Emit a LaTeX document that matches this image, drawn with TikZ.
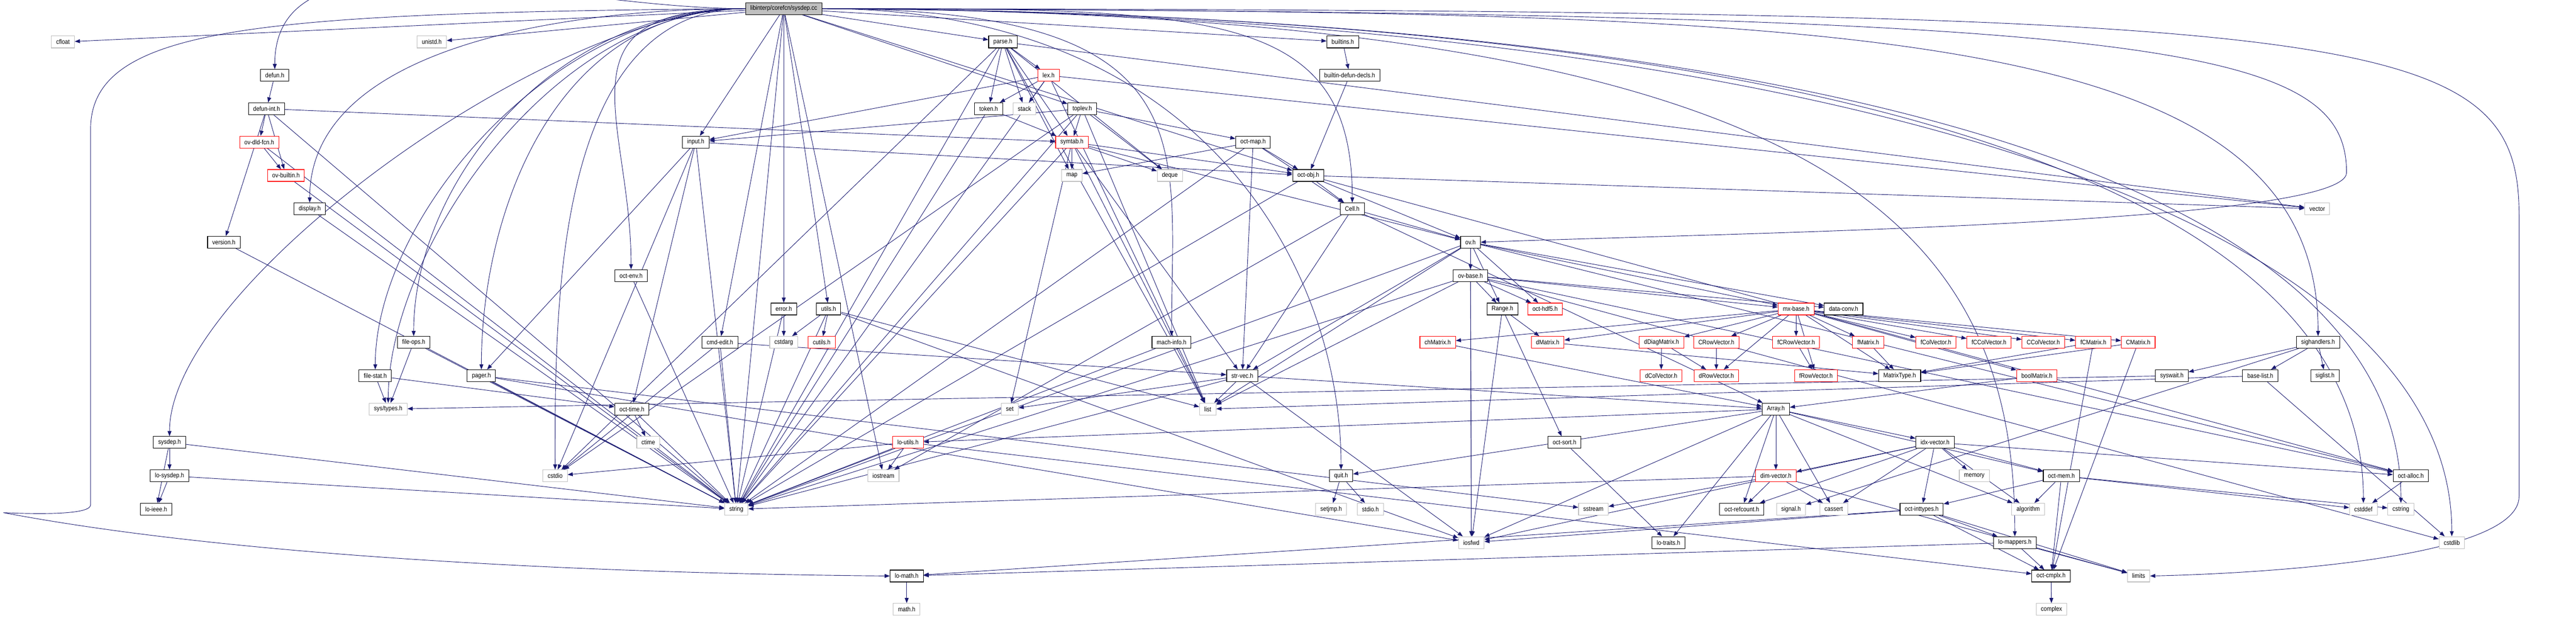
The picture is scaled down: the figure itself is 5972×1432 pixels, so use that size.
\documentclass[tikz,border=0pt]{standalone}
\usepackage{fontspec}
\newfontfamily\dfont{Liberation Sans}[FakeStretch=0.88]
\newcommand\nf{\dfont\fontsize{15}{16}\selectfont}
\usetikzlibrary{arrows.meta,backgrounds}
\definecolor{navy}{HTML}{191970}
\definecolor{lgray}{HTML}{BFBFBF}
\begin{document}
\begin{tikzpicture}[x=1bp,y=1bp,
 nd/.style={draw=black,line width=1.3bp,fill=white,inner xsep=11bp,inner ysep=0bp,minimum height=27.5bp,font=\nf,text=black},
 gr/.style={nd,draw=lgray},
 rd/.style={nd,draw=red},
 rt/.style={nd,fill=lgray},
 e/.style={draw=navy,line width=1.1bp,-{Triangle[length=12bp,width=9bp]}}]
\useasboundingbox (0,0) rectangle (5972,-1432);
% row 0
\node[rt] (sys) at (1817,-20) {libinterp/corefcn/sysdep.cc};
% row 1
\node[gr] (cfloat) at (146,-97.3) {cfloat};
\node[gr] (unistd) at (1001,-97.3) {unistd.h};
\node[nd] (parse) at (2325,-97.3) {parse.h};
\node[nd] (builtins) at (3113,-97.3) {builtins.h};
% row 2
\node[nd] (defun) at (637,-174.7) {defun.h};
\node[rd] (lex) at (2431,-174.7) {lex.h};
\node[nd] (bdd) at (3129,-174.7) {builtin-defun-decls.h};
% row 3
\node[nd] (definth) at (618,-252) {defun-int.h};
\node[nd] (token) at (2292,-252) {token.h};
\node[gr] (stack) at (2375,-252) {stack};
\node[nd] (toplev) at (2509,-252) {toplev.h};
% row 4
\node[rd] (ovdld) at (601,-329.3) {ov-dld-fcn.h};
\node[nd] (input) at (1613,-329.3) {input.h};
\node[rd] (symtab) at (2485,-329.3) {symtab.h};
\node[nd] (octmap) at (2905,-329.3) {oct-map.h};
% row 5
\node[rd] (ovbuiltin) at (663,-406.7) {ov-builtin.h};
\node[gr] (map) at (2485,-406.7) {map};
\node[gr] (deque) at (2712,-406.7) {deque};
\node[nd] (octobj) at (3033,-406.7) {oct-obj.h};
% row 6
\node[nd] (display) at (718,-484) {display.h};
\node[nd] (cell) at (3135,-484) {Cell.h};
\node[gr] (vector) at (5372,-484) {vector};
% row 7
\node[nd] (version) at (519,-561.3) {version.h};
\node[nd] (ov) at (3409,-561.3) {ov.h};
% row 8
\node[nd] (octenv) at (1463,-638.7) {oct-env.h};
\node[nd] (ovbase) at (3409,-638.7) {ov-base.h};
% row 9
\node[nd] (error) at (1817,-716) {error.h};
\node[nd] (utils) at (1921,-716) {utils.h};
\node[nd] (range) at (3483,-716) {Range.h};
\node[rd] (hdf5) at (3582,-716) {oct-hdf5.h};
\node[rd] (mxbase) at (4164,-716) {mx-base.h};
\node[nd] (dataconv) at (4274,-716) {data-conv.h};
% row 10
\node[nd] (fileops) at (959,-793.3) {file-ops.h};
\node[nd] (cmdedit) at (1669,-793.3) {cmd-edit.h};
\node[gr] (cstdarg) at (1817,-793.3) {cstdarg};
\node[rd] (cutils) at (1905,-793.3) {cutils.h};
\node[nd] (machinfo) at (2716,-793.3) {mach-info.h};
\node[rd] (chmatrix) at (3333,-793.3) {chMatrix.h};
\node[rd] (dmatrix) at (3588,-793.3) {dMatrix.h};
\node[rd] (ddiag) at (3852,-793.3) {dDiagMatrix.h};
\node[rd] (crowvec) at (3979,-793.3) {CRowVector.h};
\node[rd] (fcrowvec) at (4164,-793.3) {fCRowVector.h};
\node[rd] (fmatrix) at (4331,-793.3) {fMatrix.h};
\node[rd] (fcolvec) at (4488,-793.3) {fColVector.h};
\node[rd] (fccolvec) at (4611,-793.3) {fCColVector.h};
\node[rd] (ccolvec) at (4737,-793.3) {CColVector.h};
\node[rd] (fcmatrix) at (4853,-793.3) {fCMatrix.h};
\node[rd] (cmatrix) at (4957,-793.3) {CMatrix.h};
\node[nd] (sighandlers) at (5374,-793.3) {sighandlers.h};
% row 11
\node[nd] (filestat) at (870,-870.7) {file-stat.h};
\node[nd] (pager) at (1116,-870.7) {pager.h};
\node[nd] (strvec) at (2880,-870.7) {str-vec.h};
\node[rd] (dcolvec) at (3851,-870.7) {dColVector.h};
\node[rd] (drowvec) at (3979,-870.7) {dRowVector.h};
\node[rd] (frowvec) at (4210,-870.7) {fRowVector.h};
\node[nd] (mtype) at (4404,-870.7) {MatrixType.h};
\node[rd] (boolm) at (4722,-870.7) {boolMatrix.h};
\node[nd] (syswait) at (5035,-870.7) {syswait.h};
\node[nd] (baselist) at (5240,-870.7) {base-list.h};
\node[nd] (siglist) at (5390,-870.7) {siglist.h};
% row 12
\node[gr] (systypes) at (900,-948) {sys/types.h};
\node[nd] (octtime) at (1465,-948) {oct-time.h};
\node[gr] (set) at (2341,-948) {set};
\node[gr] (list) at (2800,-948) {list};
\node[nd] (array) at (4117,-948) {Array.h};
% row 13
\node[nd] (sysdeph) at (393,-1025.3) {sysdep.h};
\node[gr] (ctime) at (1503,-1025.3) {ctime};
\node[rd] (loutils) at (2105,-1025.3) {lo-utils.h};
\node[nd] (octsort) at (3627,-1025.3) {oct-sort.h};
\node[nd] (idx) at (4486,-1025.3) {idx-vector.h};
% row 14
\node[nd] (losysdep) at (393,-1102.7) {lo-sysdep.h};
\node[gr] (cstdio) at (1287,-1102.7) {cstdio};
\node[gr] (iostream) at (2048,-1102.7) {iostream};
\node[nd] (quit) at (3109,-1102.7) {quit.h};
\node[rd] (dimvec) at (4117,-1102.7) {dim-vector.h};
\node[gr] (memory) at (4577,-1102.7) {memory};
\node[nd] (octmem) at (4779,-1102.7) {oct-mem.h};
\node[nd] (octalloc) at (5589,-1102.7) {oct-alloc.h};
% row 15
\node[nd] (loieee) at (362,-1180) {lo-ieee.h};
\node[gr] (string) at (1707,-1180) {string};
\node[gr] (setjmp) at (3086,-1180) {setjmp.h};
\node[gr] (stdioh) at (3177,-1180) {stdio.h};
\node[gr] (sstream) at (3694,-1180) {sstream};
\node[nd] (refcount) at (4038,-1180) {oct-refcount.h};
\node[gr] (signalh) at (4152,-1180) {signal.h};
\node[gr] (cassert) at (4251,-1180) {cassert};
\node[nd] (inttypes) at (4455,-1180) {oct-inttypes.h};
\node[gr] (algorithm) at (4702,-1180) {algorithm};
\node[gr] (cstddef) at (5479,-1180) {cstddef};
\node[gr] (cstring) at (5566,-1180) {cstring};
% row 16
\node[gr] (iosfwd) at (3411,-1257.3) {iosfwd};
\node[nd] (lotraits) at (3868,-1257.3) {lo-traits.h};
\node[nd] (lomappers) at (4671,-1257.3) {lo-mappers.h};
\node[gr] (cstdlib) at (5684,-1257.3) {cstdlib};
% row 17
\node[nd] (lomath) at (2102,-1334.7) {lo-math.h};
\node[nd] (octcmplx) at (4755,-1334.7) {oct-cmplx.h};
\node[gr] (limits) at (4958,-1334.7) {limits};
% row 18
\node[gr] (mathh) at (2102,-1412) {math.h};
\node[gr] (complex) at (4756,-1412) {complex};

\begin{scope}[on background layer]
\foreach \tg in {defun,octenv,fileops,filestat,systypes,sysdeph,display,pager,cstdio}
  \draw[e] (sys.west) .. controls +(-450,0) and +(0,350) .. (\tg.north);
\foreach \tg in {cfloat,unistd,parse,builtins,input,string,error,utils,cmdedit,toplev,iostream,octobj}
  \draw[e] (sys) -- (\tg);
\foreach \tg in {cell,machinfo,quit}
  \draw[e] (sys.east) .. controls +(900,0) and +(0,450) .. (\tg.north);
\foreach \tg in {lomappers,sighandlers,cstddef,cstring,cstdlib}
  \draw[e] (sys.east) .. controls +(2300,-10) and +(0,750) .. (\tg.north);
\draw[e] (sys.east) .. controls (5000,-30) and (5440,-100) .. (5440,-400)
   .. controls (5440,-520) and (4000,-540) .. (ov.east);
\draw[e] (sys.east) .. controls (5500,-25) and (5840,-60) .. (5840,-500) -- (5840,-1150)
   .. controls (5840,-1300) and (5200,-1330) .. (limits.east);
\draw[e] (sys.west) .. controls (600,-30) and (210,-60) .. (210,-300) -- (210,-1170)
   .. controls (210,-1192) and (100,-1192) .. (8,-1188)
   .. controls (600,-1300) and (1500,-1330) .. (lomath.west);
\foreach \a/\b in {defun/definth, definth/ovdld, definth/ovbuiltin, definth/version, definth/symtab, definth/string,
 ovdld/ovbuiltin, ovdld/string, ovbuiltin/string, display/string, version/string,
 parse/lex, parse/token, parse/stack, parse/map, parse/symtab, parse/vector, parse/cstdio, parse/string, parse/list, parse/deque,
 lex/token, lex/stack, lex/input, lex/vector, lex/string, lex/list,
 toplev/symtab, toplev/octmap, toplev/deque, toplev/input, toplev/cstdio, toplev/string, toplev/list,
 token/symtab, token/string,
 symtab/map, symtab/deque, symtab/list, symtab/set, symtab/string, symtab/octobj, symtab/ov, symtab/strvec,
 octmap/map, octmap/octobj, octmap/cell, octmap/strvec, octmap/string,
 octobj/cell, octobj/ov, octobj/vector, octobj/octalloc, octobj/string,
 cell/ov, cell/array, cell/strvec, cell/iostream,
 builtins/bdd, bdd/octobj,
 input/cstdio, input/string, input/pager, input/octtime, input/octobj,
 ov/ovbase, ov/range, ov/hdf5, ov/string, ov/list, ov/iosfwd, ov/octalloc, ov/mxbase, ov/dataconv, ov/strvec,
 ovbase/range, ovbase/hdf5, ovbase/mxbase, ovbase/dataconv, ovbase/string, ovbase/list, ovbase/iosfwd, ovbase/cstdlib, ovbase/octalloc,
 range/dmatrix, range/octsort, range/iosfwd,
 mxbase/chmatrix, mxbase/dmatrix, mxbase/ddiag, mxbase/crowvec, mxbase/fcrowvec, mxbase/fmatrix, mxbase/fcolvec, mxbase/fccolvec,
 mxbase/ccolvec, mxbase/fcmatrix, mxbase/cmatrix, mxbase/mtype, mxbase/frowvec, mxbase/boolm, mxbase/drowvec,
 ddiag/dcolvec, ddiag/drowvec, crowvec/drowvec, fcrowvec/frowvec, fmatrix/mtype, fcmatrix/mtype, fcmatrix/octcmplx,
 cmatrix/mtype, cmatrix/octcmplx, dmatrix/mtype, chmatrix/array, boolm/array,
 array/dimvec, array/idx, array/refcount, array/cassert, array/octmem, array/algorithm, array/loutils, array/iosfwd, array/quit, array/lotraits,
 idx/dimvec, idx/memory, idx/octmem, idx/inttypes, idx/algorithm, idx/cassert, idx/refcount, idx/octalloc, idx/iosfwd,
 dimvec/refcount, dimvec/cassert, dimvec/sstream, dimvec/limits, dimvec/string,
 octmem/algorithm, octmem/inttypes, octmem/octcmplx, octmem/cstddef, octmem/cstring,
 inttypes/lomappers, inttypes/limits, inttypes/lomath, inttypes/iosfwd, inttypes/octcmplx,
 lomappers/octcmplx, lomappers/limits, lomappers/lomath,
 octcmplx/complex, lomath/mathh,
 sighandlers/syswait, sighandlers/baselist, sighandlers/siglist, sighandlers/signalh,
 baselist/list, baselist/cstdlib, octalloc/cstddef, syswait/systypes,
 sysdeph/loieee, sysdeph/losysdep, sysdeph/string, losysdep/loieee, losysdep/string,
 fileops/systypes, fileops/string, filestat/systypes, filestat/octtime,
 octenv/string, octtime/ctime, octtime/string,
 pager/sstream, pager/string, pager/iosfwd,
 cmdedit/cstdio, cmdedit/string, cmdedit/strvec,
 error/cstdarg, error/string,
 utils/cstdarg, utils/cutils, utils/string, utils/list, utils/iosfwd,
 quit/setjmp, quit/stdioh,
 strvec/list, strvec/set, strvec/string, strvec/array, strvec/iosfwd,
 machinfo/string,
 loutils/iostream, loutils/string, loutils/octcmplx, loutils/cstdio,
 octsort/lotraits}
  \draw[e] (\a) -- (\b);
\end{scope}
\end{tikzpicture}
\end{document}
